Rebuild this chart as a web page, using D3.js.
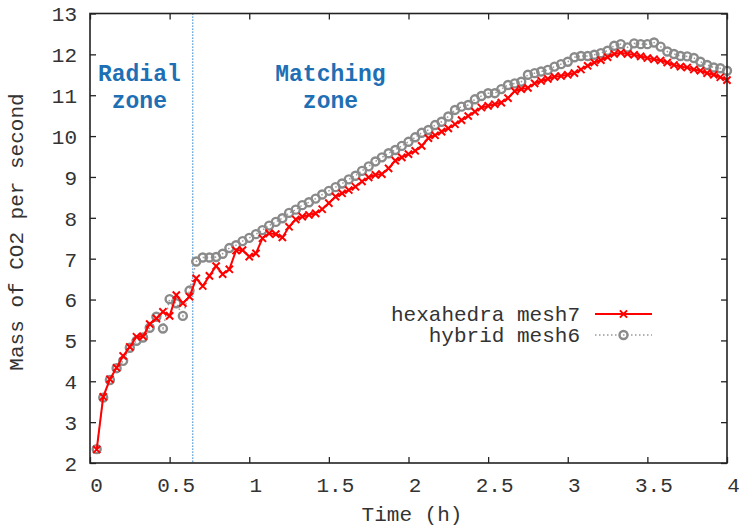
<!DOCTYPE html>
<html>
<head>
<meta charset="utf-8">
<script src="https://cdn.jsdelivr.net/npm/d3@7"></script>
<style>
  html, body { margin: 0; padding: 0; background: #fff; }
  svg { display: block; }
  text { font-family: "Liberation Mono", "DejaVu Sans Mono", monospace; }
</style>
</head>
<body>
<svg id="chart" width="739" height="526"></svg>
<script>
// ---- data (time in hours) ----
const times = [
  0.042, 0.083, 0.125, 0.167, 0.208, 0.25, 0.292, 0.333, 0.375, 0.417, 0.458, 0.5,
  0.542, 0.583, 0.625, 0.667, 0.708, 0.75, 0.792, 0.833, 0.875, 0.917, 0.958, 1.0,
  1.042, 1.083, 1.125, 1.167, 1.208, 1.25, 1.292, 1.333, 1.375, 1.417, 1.458, 1.5,
  1.542, 1.583, 1.625, 1.667, 1.708, 1.75, 1.792, 1.833, 1.875, 1.917, 1.958, 2.0,
  2.042, 2.083, 2.125, 2.167, 2.208, 2.25, 2.292, 2.333, 2.375, 2.417, 2.458, 2.5,
  2.542, 2.583, 2.625, 2.667, 2.708, 2.75, 2.792, 2.833, 2.875, 2.917, 2.958, 3.0,
  3.042, 3.083, 3.125, 3.167, 3.208, 3.25, 3.292, 3.333, 3.375, 3.417, 3.458, 3.5,
  3.542, 3.583, 3.625, 3.667, 3.708, 3.75, 3.792, 3.833, 3.875, 3.917, 3.958, 4.0
];
const hexahedraMesh7 = [
  2.33, 3.62, 4.05, 4.33, 4.62, 4.84, 5.09, 5.10, 5.40, 5.54, 5.70, 5.60,
  6.11, 5.91, 6.07, 6.52, 6.33, 6.58, 6.82, 6.62, 6.74, 7.20, 7.21, 7.05,
  7.13, 7.50, 7.62, 7.60, 7.52, 7.78, 7.96, 8.03, 8.07, 8.11, 8.21, 8.36,
  8.52, 8.60, 8.68, 8.76, 8.89, 8.99, 9.05, 9.07, 9.21, 9.40, 9.48, 9.56,
  9.64, 9.76, 9.95, 10.02, 10.11, 10.19, 10.29, 10.39, 10.49, 10.60, 10.70, 10.74,
  10.78, 10.82, 10.93, 11.10, 11.15, 11.18, 11.29, 11.35, 11.40, 11.45, 11.47, 11.50,
  11.54, 11.63, 11.72, 11.80, 11.86, 11.93, 12.01, 12.04, 12.01, 11.99, 11.95, 11.91,
  11.88, 11.85, 11.80, 11.74, 11.70, 11.68, 11.63, 11.60, 11.54, 11.50, 11.44, 11.37
];
const hybridMesh6 = [
  2.34, 3.60, 4.03, 4.32, 4.50, 4.82, 4.99, 5.07, 5.31, 5.58, 5.29, 6.01,
  5.91, 5.60, 6.22, 6.93, 7.03, 7.03, 7.04, 7.12, 7.26, 7.33, 7.43, 7.51,
  7.60, 7.70, 7.81, 7.90, 7.99, 8.12, 8.20, 8.31, 8.38, 8.47, 8.57, 8.66,
  8.75, 8.84, 8.94, 9.03, 9.15, 9.26, 9.38, 9.48, 9.58, 9.66, 9.76, 9.86,
  9.97, 10.08, 10.15, 10.27, 10.35, 10.48, 10.64, 10.72, 10.76, 10.90, 10.98, 11.05,
  11.05, 11.15, 11.25, 11.29, 11.33, 11.50, 11.54, 11.58, 11.62, 11.70, 11.76, 11.82,
  11.93, 11.96, 11.96, 11.99, 12.03, 12.09, 12.21, 12.25, 12.17, 12.27, 12.25, 12.25,
  12.29, 12.19, 12.07, 12.01, 11.96, 11.95, 11.91, 11.82, 11.74, 11.68, 11.66, 11.60
];
const xTickValues = [0, 0.5, 1, 1.5, 2, 2.5, 3, 3.5, 4];
const xTickLabels = ["0", "0.5", "1", "1.5", "2", "2.5", "3", "3.5", "4"];
const yTickValues = [2, 3, 4, 5, 6, 7, 8, 9, 10, 11, 12, 13];
const zoneBoundary = [0.645];
const zoneLabels = [
  { lines: ["Radial", "zone"], t: 0.31 },
  { lines: ["Matching", "zone"], t: 1.51 }
];
const seriesNames = ["hexahedra mesh7", "hybrid mesh6"];

// ---- layout ----
const svg = d3.select("#chart");
const L = 90, R = 727, T = 13.5, B = 463;
const x = d3.scaleLinear().domain([0, 4]).range([L, R]);
const y = d3.scaleLinear().domain([2, 13]).range([B, T]);
const textColor = "#333";
const fontSize = 21;

svg.append("rect").attr("width", 739).attr("height", 526).attr("fill", "#fff");

// ticks (inward, mirrored)
const gB = svg.append("g").attr("transform", `translate(0,${B})`)
  .call(d3.axisBottom(x).tickValues(xTickValues).tickSize(-6).tickFormat((d, i) => xTickLabels[i]));
const gT = svg.append("g").attr("transform", `translate(0,${T})`)
  .call(d3.axisTop(x).tickValues(xTickValues).tickSize(-6).tickFormat(""));
const gL = svg.append("g").attr("transform", `translate(${L},0)`)
  .call(d3.axisLeft(y).tickValues(yTickValues).tickSize(-6).tickFormat(d3.format("d")));
const gR = svg.append("g").attr("transform", `translate(${R},0)`)
  .call(d3.axisRight(y).tickValues(yTickValues).tickSize(-6).tickFormat(""));
[gB, gT, gL, gR].forEach(g => {
  g.select(".domain").remove();
  g.selectAll(".tick line").attr("stroke", "#222").attr("stroke-width", 1.3);
});
gB.selectAll(".tick text")
  .attr("y", 22).attr("dy", "0.35em").attr("dx", 6)
  .attr("font-size", fontSize).attr("fill", textColor)
  .attr("font-family", "Liberation Mono");
gL.selectAll(".tick text")
  .attr("x", -13).attr("dy", "0.35em")
  .attr("font-size", fontSize).attr("fill", textColor)
  .attr("font-family", "Liberation Mono");

// zone boundary
svg.selectAll("line.zone").data(zoneBoundary).enter().append("line")
  .attr("class", "zone")
  .attr("x1", d => x(d)).attr("x2", d => x(d))
  .attr("y1", T).attr("y2", B)
  .attr("stroke", "#3b8bd0").attr("stroke-width", 1.3).attr("stroke-dasharray", "1.3,1.7");

// zone labels
zoneLabels.forEach(z => {
  z.lines.forEach((ln, i) => {
    svg.append("text")
      .attr("x", x(z.t)).attr("y", 81 + i * 27)
      .attr("text-anchor", "middle")
      .attr("font-size", 23).attr("font-weight", "bold")
      .attr("fill", "#1f6fb4")
      .attr("font-family", "Liberation Mono")
      .text(ln);
  });
});

// data
const hexData = times.map((t, i) => ({ t, v: hexahedraMesh7[i] }));
const hybData = times.map((t, i) => ({ t, v: hybridMesh6[i] }));
const line = d3.line().x(d => x(d.t)).y(d => y(d.v));

// hybrid (gray dotted with open circles)
svg.append("path").datum(hybData).attr("d", line)
  .attr("fill", "none").attr("stroke", "#999").attr("stroke-width", 1.5)
  .attr("stroke-dasharray", "1.5,2.5");
svg.append("g").selectAll("circle").data(hybData).enter().append("circle")
  .attr("cx", d => x(d.t)).attr("cy", d => y(d.v)).attr("r", 4)
  .attr("fill", "none").attr("stroke", "#8a8a8a").attr("stroke-width", 2.4);

// hexahedra (red with X)
svg.append("path").datum(hexData).attr("d", line)
  .attr("fill", "none").attr("stroke", "#ff0000").attr("stroke-width", 2);
const xs = 3.6;
const cross = (cx, cy) => `M${cx - xs},${cy - xs}L${cx + xs},${cy + xs}M${cx - xs},${cy + xs}L${cx + xs},${cy - xs}`;
svg.append("g").selectAll("path").data(hexData).enter().append("path")
  .attr("d", d => cross(x(d.t), y(d.v)))
  .attr("stroke", "#ff0000").attr("stroke-width", 2).attr("fill", "none");

// frame
svg.append("rect").attr("x", L).attr("y", T).attr("width", R - L).attr("height", B - T)
  .attr("fill", "none").attr("stroke", "#222").attr("stroke-width", 1.6);

// legend
const lgX1 = 595, lgX2 = 652, lgTextX = 580;
const lgY = [314, 335];
svg.append("text").attr("x", lgTextX).attr("y", lgY[0]).attr("dy", "0.35em")
  .attr("text-anchor", "end").attr("font-size", fontSize).attr("fill", textColor)
  .attr("font-family", "Liberation Mono").text(seriesNames[0]);
svg.append("line").attr("x1", lgX1).attr("x2", lgX2).attr("y1", lgY[0]).attr("y2", lgY[0])
  .attr("stroke", "#ff0000").attr("stroke-width", 2);
svg.append("path").attr("d", cross((lgX1 + lgX2) / 2, lgY[0]))
  .attr("stroke", "#ff0000").attr("stroke-width", 2);
svg.append("text").attr("x", lgTextX).attr("y", lgY[1]).attr("dy", "0.35em")
  .attr("text-anchor", "end").attr("font-size", fontSize).attr("fill", textColor)
  .attr("font-family", "Liberation Mono").text(seriesNames[1]);
svg.append("line").attr("x1", lgX1).attr("x2", lgX2).attr("y1", lgY[1]).attr("y2", lgY[1])
  .attr("stroke", "#999").attr("stroke-width", 1.5).attr("stroke-dasharray", "1.5,2.5");
svg.append("circle").attr("cx", (lgX1 + lgX2) / 2).attr("cy", lgY[1]).attr("r", 4)
  .attr("fill", "none").attr("stroke", "#8a8a8a").attr("stroke-width", 2.4);

// axis titles
svg.append("text").attr("x", 412).attr("y", 521)
  .attr("text-anchor", "middle").attr("font-size", fontSize).attr("fill", textColor)
  .attr("font-family", "Liberation Mono").text("Time (h)");
svg.append("text").attr("transform", "translate(23,232) rotate(-90)")
  .attr("text-anchor", "middle").attr("font-size", fontSize).attr("fill", textColor)
  .attr("font-family", "Liberation Mono").text("Mass of CO2 per second");
</script>
</body>
</html>
